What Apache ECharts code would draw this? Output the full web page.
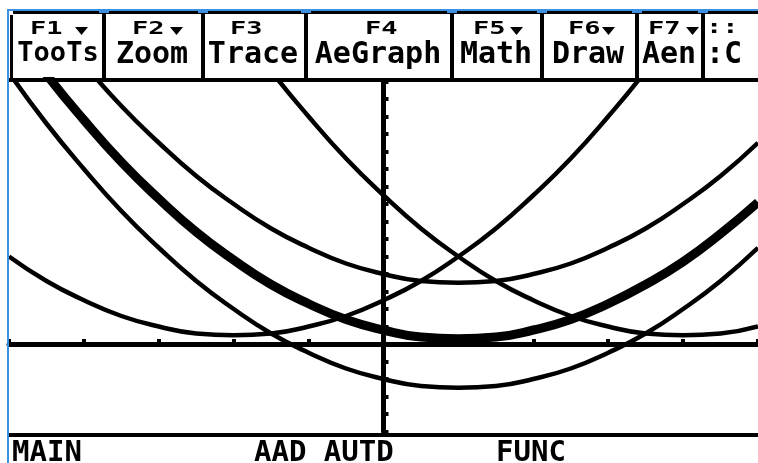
<!DOCTYPE html>
<html>
<head>
<meta charset="utf-8">
<script src="https://cdn.jsdelivr.net/npm/echarts@6/dist/echarts.min.js"></script>
<style>
    html, body { margin: 0; padding: 0; background: #fff; }
    #chart { width: 758px; height: 463px; }
</style>
</head>
<body>
<div id="chart"></div>
<script>
// x positions the curves were read at
var xValues = [-5, -4.5, -4, -3.5, -3, -2.5, -2, -1.5, -1, -0.5, 0, 0.5, 1, 1.5, 2, 2.5, 3, 3.5, 4, 4.5, 5];
// upper thin parabola
var curveHigh = [21.5, 18.6, 16, 13.6, 11.5, 9.6, 8, 6.6, 5.5, 4.6, 4, 3.6, 3.5, 3.6, 4, 4.6, 5.5, 6.6, 8, 9.6, 11.5];
// thick parabola
var curveThick = [18.3, 15.4, 12.8, 10.4, 8.3, 6.4, 4.8, 3.4, 2.3, 1.4, 0.8, 0.4, 0.3, 0.4, 0.8, 1.4, 2.3, 3.4, 4.7, 6.3, 8.1];
// lower thin parabola
var curveLow = [15.5, 12.6, 10, 7.6, 5.5, 3.6, 2, 0.6, -0.5, -1.4, -2, -2.4, -2.5, -2.4, -2, -1.4, -0.5, 0.6, 2, 3.6, 5.5];
// parabola with vertex on the right
var curveRight = [41, 36.6, 32.5, 28.6, 25, 21.6, 18.5, 15.6, 13, 10.6, 8.5, 6.6, 5, 3.6, 2.5, 1.6, 1, 0.6, 0.5, 0.6, 1];
// parabola with vertex on the left
var curveLeft = [5, 3.6, 2.5, 1.6, 1, 0.6, 0.5, 0.6, 1, 1.6, 2.5, 3.6, 5, 6.6, 8.5, 10.6, 13, 15.6, 18.5, 21.6, 25];

var menuTop = ['F1', 'F2', 'F3', 'F4', 'F5', 'F6', 'F7'];
var menuBottom = ['TooTs', 'Zoom', 'Trace', 'AeGraph', 'Math', 'Draw', 'Aen'];
var statusTexts = ['MAIN', 'AAD AUTD', 'FUNC'];

var BLUE = '#3d8fe0';
var INK = '#000';
var MONO = '"DejaVu Sans Mono", "Liberation Mono", monospace';

function pairs(ys) {
    return xValues.map(function(x, i) {
        return [x, ys[i]];
    });
}

function curve(ys, width) {
    return {
        type: 'line',
        data: pairs(ys),
        symbol: 'none',
        smooth: true,
        silent: true,
        clip: true,
        lineStyle: {color: INK, width: width}
    };
}

function rect(x, y, w, h, color) {
    return {type: 'rect', shape: {x: x, y: y, width: w, height: h}, style: {fill: color}, z: 10};
}

function label(text, x, y, size, align, scaleY) {
    return {
        type: 'text',
        x: x,
        y: y,
        scaleY: scaleY || 1,
        style: {
            text: text,
            fill: INK,
            font: 'bold ' + size + 'px ' + MONO,
            textAlign: align,
            textVerticalAlign: 'top'
        },
        z: 11
    };
}

// toolbar frame, dividers and status line
var dividers = [103, 202, 305, 451, 541, 636, 702];
var boxCenters = [58, 152, 253, 378, 496, 588, 669];
var fLeft = [30, 132, 230, 365, 473, 568, 648];
var arrowLeft = [75, 170, null, null, 510, 602, 686];

var graphics = [
    rect(0, 0, 758, 9, '#fff'),
    rect(7, 9, 751, 2, BLUE),
    rect(7, 9, 2, 454, BLUE),
    rect(13, 11, 745, 3, INK),
    rect(10, 15, 3, 65, INK),
    rect(9, 78, 749, 4, INK),
    rect(9, 433, 749, 4, INK)
];
dividers.forEach(function(x) {
    graphics.push(rect(x - 1, 11, 4, 67, INK));
    graphics.push(rect(x - 4, 11, 10, 2, BLUE));
});
menuTop.forEach(function(t, i) {
    graphics.push(label(t, fLeft[i], 21, 27, 'left', 0.62));
    if (arrowLeft[i] !== null) {
        graphics.push({
            type: 'polygon',
            shape: {points: [[arrowLeft[i], 27], [arrowLeft[i] + 13, 27], [arrowLeft[i] + 6.5, 35]]},
            style: {fill: INK},
            z: 11
        });
    }
});
menuBottom.forEach(function(t, i) {
    graphics.push(label(t, boxCenters[i], 40, i === 0 ? 27 : 30, 'center'));
});
graphics.push(label('::', 706, 19, 27, 'left', 0.7));
graphics.push(label(':C', 706, 40, 30, 'left'));
graphics.push(label(statusTexts[0], 12, 439, 29, 'left'));
graphics.push(label(statusTexts[1], 254, 439, 29, 'left'));
graphics.push(label(statusTexts[2], 496, 439, 29, 'left'));

var axisCommon = {
    type: 'value',
    interval: 1,
    axisLabel: {show: false},
    splitLine: {show: false},
    axisLine: {show: true, onZero: true, lineStyle: {color: INK, width: 5}},
    axisTick: {show: true, inside: true, length: 5, lineStyle: {color: INK, width: 4}}
};

var chart = echarts.init(document.getElementById('chart'), null, {renderer: 'canvas'});
chart.setOption({
    animation: false,
    backgroundColor: '#fff',
    grid: {left: 9, top: 81.5, width: 750, height: 350},
    xAxis: Object.assign({}, axisCommon, {min: -5, max: 5}),
    yAxis: Object.assign({}, axisCommon, {min: -5, max: 15}),
    series: [
        curve(curveHigh, 4.5),
        curve(curveThick, 9),
        curve(curveLow, 4.5),
        curve(curveRight, 4.5),
        curve(curveLeft, 4.5)
    ],
    graphic: graphics
});
</script>
</body>
</html>
